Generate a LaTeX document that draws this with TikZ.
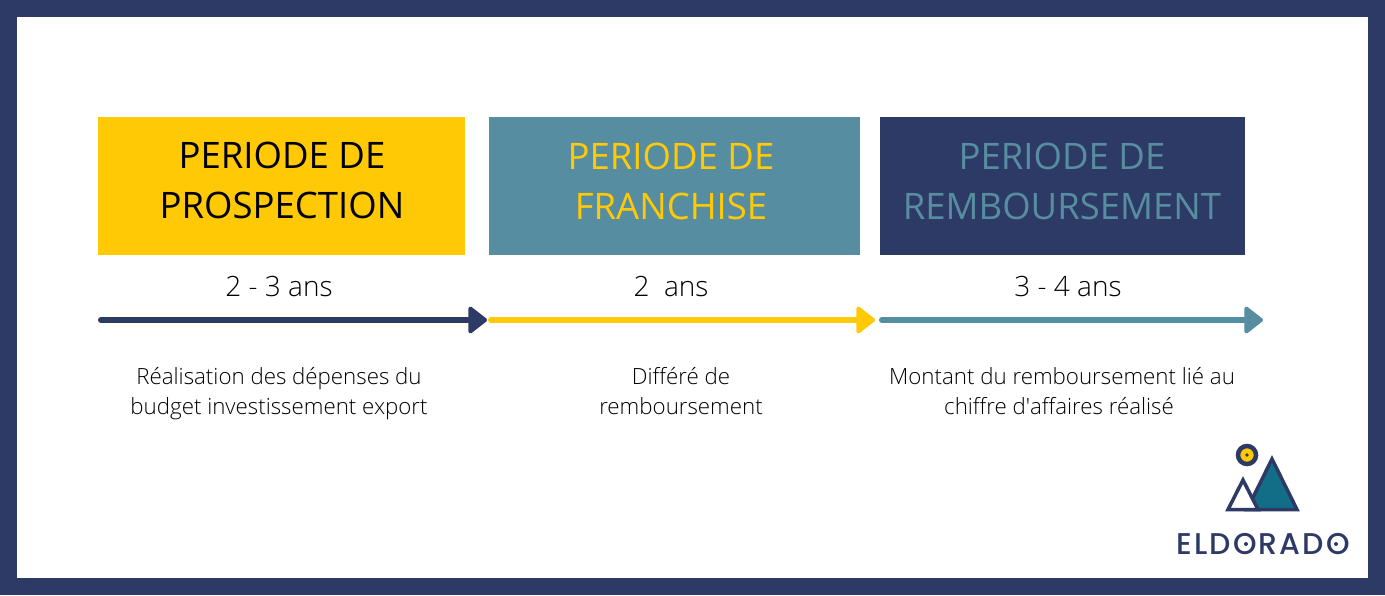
\documentclass[tikz,border=0pt]{standalone}
\usepackage{fontspec}
\setmainfont{Open Sans}[UprightFont=* Light]
\newfontfamily\titlefont{Open Sans}
\newfontfamily\logofont{Poppins}[UprightFont=* Medium,LetterSpace=7]
\usetikzlibrary{arrows.meta,positioning}
\definecolor{navy}{HTML}{2E3A66}
\definecolor{gold}{HTML}{FFCA05}
\definecolor{teal}{HTML}{578DA1}
\definecolor{deepteal}{HTML}{126E87}

\begin{document}
\begin{tikzpicture}[x=1pt, y=-1pt,
    phasebox/.style={inner sep=0pt, outer sep=0pt},
    title/.style={font=\titlefont\fontsize{36.5}{50}\selectfont, align=center},
    duration/.style={font=\fontsize{28}{36}\selectfont, text=black},
    note/.style={font=\fontsize{22.3}{30}\selectfont, text=black, align=center},
    timeline/.style={line width=6pt, line cap=round, -{Triangle[round, length=20pt, width=30pt, line width=4pt]}}]

    % Frame
    \useasboundingbox (0,0) rectangle (1385,595);
    \fill[navy] (0,0) rectangle (1385,595);
    \fill[white] (17,17) rectangle (1368,578);

    % Boxes
    \node[phasebox, fill=gold, minimum width=367pt, minimum height=138pt] (pros) at (281.5,186) {};
    \node[phasebox, fill=teal, minimum width=371pt, minimum height=138pt, right=24pt of pros] (fran) {};
    \node[phasebox, fill=navy, minimum width=364.5pt, minimum height=138pt, right=20pt of fran] (remb) {};

    % Titles
    \node[title, text=black] (prostitle) at (282,180) {PERIODE DE\\PROSPECTION};
    \node[title, text=gold] (frantitle) at (671,181) {PERIODE DE\\FRANCHISE};
    \node[title, text=teal] (rembtitle) at (1062,181) {PERIODE DE\\REMBOURSEMENT};

    % Durations
    \node[duration] (prosyears) at (279,286.5) {2 - 3 ans};
    \node[duration] (franyears) at (671,286.5) {2\ \ ans};
    \node[duration] (rembyears) at (1068,286.5) {3 - 4 ans};

    % Arrows
    \coordinate (p0) at (101,320);
    \coordinate (p1) at (487,320);
    \coordinate (f0) at (491,320);
    \coordinate (f1) at (875,320);
    \coordinate (r0) at (882,320);
    \coordinate (r1) at (1263,320);
    \draw[timeline, navy] (p0) -- (p1);
    \draw[timeline, gold] (f0) -- (f1);
    \draw[timeline, teal] (r0) -- (r1);

    % Notes
    \node[note] (prosnote) at (279,394) {Réalisation des dépenses du\\budget investissement export};
    \node[note] (frannote) at (681,391) {Différé de\\remboursement};
    \node[note] (rembnote) at (1062,391) {Montant du remboursement lié au\\chiffre d\textquotesingle affaires réalisé\hspace*{6pt}};

    % Logo
    \draw[navy, line width=3.5pt, line join=miter, fill=deepteal] (1247,509.5) -- (1272,459) -- (1297,509.5) -- cycle;
    \draw[navy, line width=3.5pt, line join=miter, fill=white] (1228,509.5) -- (1243,480) -- (1258,509.5) -- cycle;
    \draw[navy, line width=4.5pt, fill=gold] (1247,455) circle (9pt);
    \fill[navy] (1247,455) circle (1.8pt);
    \node[font=\logofont\fontsize{30}{30}\selectfont, text=navy, inner sep=0pt] (eldorado) at (1263,544) {ELDORADO};
    \fill[navy] (1246,544) circle (2pt);
    \fill[navy] (1336,544) circle (2pt);

\end{tikzpicture}
\end{document}
